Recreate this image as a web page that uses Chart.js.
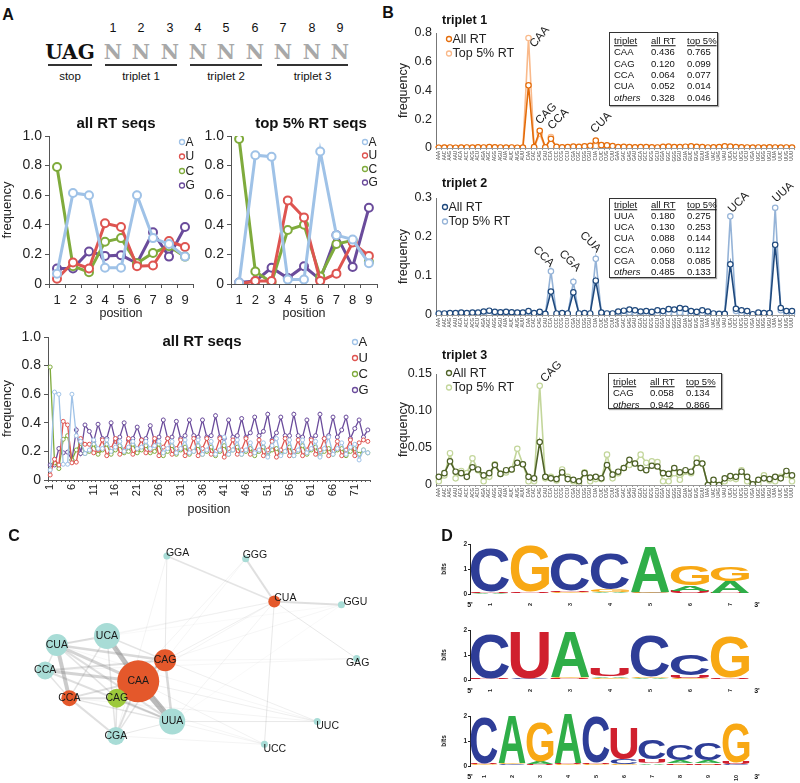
<!DOCTYPE html>
<html>
<head>
<meta charset="utf-8">
<title>RT triplet figure</title>
<script src="https://cdn.jsdelivr.net/npm/chart.js@4.4.1/dist/chart.umd.min.js"></script>
<style>
  body { margin: 0; background: #fff; }
  #page { position: relative; width: 800px; height: 783px; overflow: hidden; font-family: 'Liberation Sans', Arial, sans-serif; color: #111; }
  canvas { position: absolute; }
  .lbl { position: absolute; white-space: nowrap; transform: translate(-50%, -50%); line-height: 1; }
  .lft { position: absolute; white-space: nowrap; transform: translate(0, -50%); line-height: 1; }
  .panel { font-weight: bold; font-size: 16px; }
  .ttl { font-weight: bold; font-size: 15px; }
  .sub { font-weight: bold; font-size: 12.5px; }
  .num { font-size: 12.5px; }
  .slab { font-family: 'DejaVu Serif', serif; font-weight: bold; font-size: 20px; }
  .grey { color: #a8a8a8; }
  .bar { position: absolute; height: 2px; background: #333; }
  .tbl { position: absolute; border: 1.6px solid #333; box-shadow: 1px 1px 1px #aaa; background: #fff; font-size: 9.5px; }
  .tbl div { position: absolute; white-space: nowrap; transform: translateY(-50%); line-height: 1; }
  .prime { font-size: 7px; font-weight: bold; }
</style>
</head>
<body>
<div id="page">
  <canvas id="a1" width="200" height="219" style="left:0;top:105px"></canvas>
  <canvas id="a2" width="200" height="219" style="left:200px;top:105px"></canvas>
  <canvas id="a3" width="400" height="195" style="left:0;top:325px"></canvas>
  <canvas id="b1" width="404" height="152" style="left:396px;top:20px"></canvas>
  <canvas id="b2" width="404" height="161" style="left:396px;top:178px"></canvas>
  <canvas id="b3" width="404" height="148" style="left:396px;top:361px"></canvas>
  <canvas id="c" width="400" height="263" style="left:0;top:520px"></canvas>
  <canvas id="d1" width="320" height="75" style="left:440px;top:535px"></canvas>
  <canvas id="d2" width="320" height="75" style="left:440px;top:621px"></canvas>
  <canvas id="d3" width="320" height="75" style="left:440px;top:707px"></canvas>

  <div class="lbl panel" style="left:8px;top:15px">A</div>
  <div class="lbl panel" style="left:388px;top:13px">B</div>
  <div class="lbl panel" style="left:14px;top:536px">C</div>
  <div class="lbl panel" style="left:447px;top:536px">D</div>

  <div id="diagram"></div>

  <div class="lbl ttl" style="left:116px;top:122px">all RT seqs</div>
  <div class="lbl ttl" style="left:311px;top:122px">top 5% RT seqs</div>
  <div class="lbl ttl" style="left:202px;top:340px">all RT seqs</div>

  <div class="lft sub" style="left:442px;top:20px">triplet 1</div>
  <div class="lft sub" style="left:442px;top:183px">triplet 2</div>
  <div class="lft sub" style="left:442px;top:355px">triplet 3</div>

  <div id="tables"></div>

  <div class="lbl prime" style="left:470px;top:604px">5'</div>
  <div class="lbl prime" style="left:757px;top:604px">3'</div>
  <div class="lbl prime" style="left:470px;top:690px">5'</div>
  <div class="lbl prime" style="left:757px;top:690px">3'</div>
  <div class="lbl prime" style="left:470px;top:776px">5'</div>
  <div class="lbl prime" style="left:757px;top:776px">3'</div>
</div>

<script>
// ---- data: position frequencies (all RT seqs, 74 positions after the stop codon)
const positions = Array.from({length: 74}, (_, i) => String(i + 1));
const allA = [0.07,0.615,0.60,0.11,0.11,0.60,0.31,0.27,0.185,
  0.21,0.28,0.22, 0.22,0.28,0.20, 0.23,0.27,0.20, 0.23,0.27,0.22, 0.23,0.27,0.22, 0.24,0.27,0.19, 0.22,0.27,0.19,
  0.22,0.28,0.19, 0.20,0.28,0.18, 0.21,0.27,0.18, 0.21,0.30,0.18, 0.21,0.28,0.18, 0.21,0.26,0.19, 0.21,0.26,0.16,
  0.24,0.29,0.17, 0.20,0.28,0.17, 0.21,0.28,0.19, 0.22,0.27,0.16, 0.22,0.30,0.18, 0.22,0.26,0.18, 0.23,0.25,0.14, 0.21,0.19];
const allU = [0.035,0.145,0.105,0.41,0.385,0.12,0.125,0.29,0.25,
  0.25,0.19,0.21, 0.28,0.17,0.22, 0.29,0.18,0.21, 0.29,0.18,0.22, 0.28,0.19,0.21, 0.29,0.17,0.23, 0.29,0.18,0.22,
  0.28,0.17,0.21, 0.29,0.17,0.22, 0.29,0.18,0.20, 0.29,0.16,0.22, 0.28,0.18,0.21, 0.29,0.18,0.20, 0.28,0.17,0.21,
  0.27,0.16,0.21, 0.29,0.17,0.20, 0.28,0.17,0.21, 0.28,0.18,0.21, 0.29,0.17,0.20, 0.27,0.17,0.21, 0.28,0.17,0.26, 0.28,0.27];
const allC = [0.79,0.12,0.08,0.285,0.31,0.14,0.21,0.255,0.185,
  0.20,0.25,0.18, 0.21,0.25,0.18, 0.21,0.24,0.19, 0.20,0.25,0.19, 0.21,0.24,0.19, 0.20,0.25,0.17, 0.20,0.24,0.18,
  0.21,0.23,0.18, 0.20,0.24,0.18, 0.20,0.23,0.17, 0.20,0.24,0.18, 0.21,0.23,0.18, 0.20,0.22,0.17, 0.20,0.23,0.17,
  0.21,0.22,0.18, 0.20,0.23,0.17, 0.20,0.24,0.18, 0.21,0.23,0.17, 0.20,0.22,0.18, 0.21,0.22,0.17, 0.20,0.22,0.18, 0.21,0.19];
const allG = [0.105,0.105,0.22,0.19,0.195,0.14,0.35,0.185,0.385,
  0.34,0.27,0.39, 0.29,0.29,0.40, 0.27,0.30,0.40, 0.28,0.29,0.37, 0.28,0.29,0.38, 0.27,0.30,0.42, 0.29,0.30,0.41,
  0.29,0.31,0.42, 0.31,0.30,0.42, 0.30,0.31,0.45, 0.30,0.29,0.42, 0.30,0.31,0.43, 0.30,0.33,0.44, 0.31,0.34,0.46,
  0.28,0.33,0.44, 0.31,0.31,0.46, 0.31,0.30,0.42, 0.29,0.31,0.46, 0.29,0.31,0.44, 0.30,0.35,0.44, 0.29,0.36,0.42, 0.30,0.35];

// top 5% RT seqs, positions 1-9
const topA = [0.01,0.87,0.86,0.03,0.03,0.895,0.33,0.30,0.14];
const topU = [0.0,0.02,0.02,0.565,0.45,0.02,0.07,0.28,0.19];
const topC = [0.98,0.085,0.01,0.365,0.40,0.05,0.27,0.295,0.15];
const topG = [0.01,0.02,0.11,0.04,0.12,0.03,0.33,0.115,0.515];

// ---- triplet frequencies
const codons = ['AAA','AAC','AAG','AAU','ACA','ACC','ACG','ACU','AGA','AGC','AGG','AGU','AUA','AUC','AUG','AUU',
  'CAA','CAC','CAG','CAU','CCA','CCC','CCG','CCU','CGA','CGC','CGG','CGU','CUA','CUC','CUG','CUU',
  'GAA','GAC','GAG','GAU','GCA','GCC','GCG','GCU','GGA','GGC','GGG','GGU','GUA','GUC','GUG','GUU',
  'UAA','UAC','UAG','UAU','UCA','UCC','UCG','UCU','UGA','UGC','UGG','UGU','UUA','UUC','UUG','UUU'];
const t1All = [0.002,0.003,0.004,0.002,0.003,0.004,0.003,0.005,0.004,0.006,0.005,0.004,0.003,0.004,0.002,0.003,
  0.436,0.006,0.120,0.005,0.064,0.008,0.005,0.007,0.010,0.008,0.012,0.015,0.052,0.020,0.018,0.014,
  0.006,0.008,0.007,0.005,0.006,0.007,0.005,0.004,0.008,0.010,0.007,0.006,0.009,0.012,0.008,0.007,
  0.004,0.005,0.006,0.012,0.010,0.006,0.005,0.004,0.003,0.004,0.003,0.005,0.004,0.003,0.004,0.003];
const t1Top = [0.001,0.001,0.001,0.000,0.001,0.001,0.000,0.001,0.001,0.001,0.001,0.001,0.000,0.001,0.000,0.000,
  0.765,0.001,0.099,0.000,0.077,0.001,0.001,0.001,0.002,0.001,0.002,0.002,0.014,0.003,0.002,0.001,
  0.001,0.001,0.001,0.001,0.001,0.001,0.000,0.001,0.001,0.002,0.001,0.001,0.001,0.002,0.001,0.001,
  0.000,0.001,0.001,0.001,0.002,0.001,0.001,0.000,0.000,0.001,0.000,0.001,0.001,0.000,0.001,0.000];
const t2All = [0.004,0.004,0.005,0.005,0.006,0.005,0.006,0.006,0.009,0.011,0.008,0.007,0.008,0.007,0.006,0.006,
  0.010,0.005,0.008,0.003,0.060,0.004,0.005,0.004,0.058,0.004,0.005,0.004,0.088,0.006,0.004,0.004,
  0.009,0.011,0.014,0.012,0.009,0.010,0.008,0.012,0.010,0.015,0.014,0.018,0.016,0.010,0.008,0.012,
  0.009,0.004,0.003,0.003,0.130,0.016,0.012,0.010,0.002,0.006,0.005,0.005,0.180,0.018,0.010,0.010];
const t2Top = [0.001,0.001,0.001,0.002,0.001,0.001,0.002,0.001,0.002,0.003,0.002,0.001,0.002,0.001,0.001,0.001,
  0.008,0.001,0.003,0.001,0.112,0.001,0.001,0.001,0.085,0.001,0.002,0.001,0.144,0.003,0.001,0.001,
  0.003,0.004,0.006,0.005,0.003,0.004,0.002,0.004,0.003,0.005,0.004,0.006,0.005,0.003,0.002,0.004,
  0.002,0.001,0.000,0.001,0.253,0.010,0.004,0.003,0.000,0.002,0.001,0.002,0.275,0.012,0.004,0.003];
const t3All = [0.011,0.016,0.032,0.018,0.016,0.011,0.024,0.021,0.013,0.016,0.027,0.015,0.020,0.021,0.030,0.028,
  0.011,0.009,0.058,0.011,0.009,0.008,0.017,0.008,0.007,0.005,0.016,0.010,0.011,0.009,0.027,0.014,
  0.018,0.023,0.034,0.029,0.023,0.020,0.026,0.025,0.016,0.015,0.023,0.017,0.020,0.018,0.030,0.029,
  0.000,0.007,0.000,0.009,0.012,0.011,0.018,0.011,0.001,0.007,0.009,0.008,0.011,0.009,0.019,0.013];
const t3Top = [0.005,0.013,0.043,0.009,0.019,0.016,0.036,0.020,0.005,0.011,0.028,0.015,0.017,0.021,0.049,0.028,
  0.005,0.005,0.134,0.009,0.011,0.006,0.021,0.011,0.005,0.001,0.017,0.005,0.008,0.008,0.041,0.009,
  0.016,0.023,0.027,0.029,0.041,0.030,0.032,0.031,0.005,0.005,0.016,0.007,0.018,0.016,0.036,0.029,
  0.000,0.002,0.000,0.005,0.009,0.008,0.020,0.005,0.000,0.002,0.013,0.006,0.005,0.011,0.014,0.005];

const tab1 = [['CAA','0.436','0.765'],['CAG','0.120','0.099'],['CCA','0.064','0.077'],['CUA','0.052','0.014'],['others','0.328','0.046']];
const tab2 = [['UUA','0.180','0.275'],['UCA','0.130','0.253'],['CUA','0.088','0.144'],['CCA','0.060','0.112'],['CGA','0.058','0.085'],['others','0.485','0.133']];
const tab3 = [['CAG','0.058','0.134'],['others','0.942','0.866']];

// ---- network (layout coordinates 0-100, node size, group)
const nodeNames = ['GGA','GGG','CUA','GGU','GAG','UCA','CUA','CAG','CCA','CAA','CCA','CAG','UUA','CGA','UUC','UCC'];
const nodeGroup = ['t2','t2','t1','t2','t2','t2','t2','t1','t2','t1','t1','t3','t2','t2','t2','t2'];
const nodeX = [40.75,62.75,70.75,89.5,93.75,24.0,10.0,40.25,6.75,32.75,13.5,26.75,42.25,26.5,82.75,68.0];
const nodeY = [6.8,8.0,27.4,28.9,53.2,43.0,47.1,54.0,58.6,63.5,71.1,71.1,81.7,88.2,81.7,92.0];
const nodeSize = [3.5,3.5,6,3.5,3.5,13,11,11,9,21,8,9.5,13,9,3.5,3.5];
const edges = [
  [9,12,6],[9,5,5],[6,10,4],[9,6,3],[9,8,3],[9,7,2.5],[9,10,2],[9,11,2],[9,13,2],
  [6,7,2.5],[6,5,2],[6,12,2],[6,11,1.5],[8,7,2],[8,12,2],[8,10,1.5],[8,6,1.5],
  [5,7,1.5],[5,10,1.5],[5,13,1.5],[5,12,1],[7,12,2.5],[7,11,1.5],[7,13,1.5],
  [10,11,2],[10,13,2],[10,12,1.5],[11,12,2],[11,13,1.5],[13,12,1],
  [2,0,1.5],[2,1,2],[2,3,2],[2,4,1],[2,15,1],[2,7,0.8],[2,9,0.6],[2,5,0.5],[2,12,0.6],[2,6,0.5],
  [0,7,1],[0,13,0.6],[1,11,0.6],[1,7,0.5],[4,7,0.5],[4,8,0.5],[3,7,0.5],[3,5,0.4],[3,12,0.4],
  [14,12,1],[14,9,0.8],[14,7,0.8],[14,10,0.6],[14,6,0.5],[15,9,0.7],[15,13,0.6],[15,12,0.6],[15,11,0.5]
];

// ---- sequence logos (bits per base and position)
const logo1 = { A: [0.03,0.02,0.03,0.05,1.80,0.22,0.45], C: [1.75,0.02,1.45,1.40,0.03,0.03,0.02],
                G: [0.02,1.85,0.03,0.10,0.05,0.78,0.55], U: [0.04,0.05,0.06,0.03,0.02,0.08,0.03] };
const logo2 = { A: [0.02,0.02,1.80,0.06,0.04,0.03,0.02], C: [1.80,0.03,0.03,0.03,1.65,0.85,0.02],
                G: [0.02,0.02,0.05,0.05,0.05,0.04,1.62], U: [0.03,1.85,0.03,0.30,0.03,0.12,0.05] };
const logo3 = { A: [0.03,1.90,0.10,1.95,0.03,0.04,0.06,0.12,0.12,0.03], C: [1.85,0.04,0.03,0.03,1.85,0.18,0.80,0.62,0.66,0.03],
                G: [0.03,0.05,1.60,0.04,0.03,0.04,0.04,0.05,0.05,1.55], U: [0.04,0.03,0.04,0.04,0.06,1.25,0.15,0.06,0.06,0.08] };

// ---- styles
const FONT = "'Liberation Sans', Arial, sans-serif";
Chart.defaults.font.family = FONT;
Chart.defaults.color = '#222';
Chart.defaults.animation = false;
Chart.defaults.responsive = false;
Chart.defaults.plugins.legend.display = false;
Chart.defaults.plugins.tooltip.enabled = false;

const nucColors = { A: '#9fc2e7', U: '#de5450', C: '#7fab3c', G: '#6a4b9b' };
const tripColors = [['#e46c0a', '#f9b98a'], ['#1f497d', '#95b3d7'], ['#4f6228', '#c3d69b']];
const nodeColor = { t1: '#e4582b', t2: '#a8dcd6', t3: '#9cc93b' };
const letterColors = { A: '#2fae48', C: '#2e3d97', G: '#f8a814', U: '#d0202e' };

// legend drawn inside the plot area
const cornerLegend = {
  id: 'cornerLegend',
  afterDraw(chart, args, o) {
    if (o.dx === undefined) return;
    const ctx = chart.ctx, a = chart.chartArea;
    ctx.save();
    ctx.font = o.size + 'px ' + FONT;
    ctx.textBaseline = 'middle';
    chart.data.datasets.forEach((d, k) => {
      const x = o.fromRight ? a.right - o.dx : a.left + o.dx;
      const y = a.top + o.dy + k * o.step;
      ctx.beginPath();
      ctx.arc(x, y, o.r, 0, Math.PI * 2);
      ctx.fillStyle = '#fff'; ctx.fill();
      ctx.strokeStyle = d.borderColor; ctx.lineWidth = o.lw; ctx.stroke();
      ctx.fillStyle = '#222';
      ctx.fillText(d.label, x + o.r + 1, y + 0.5);
    });
    ctx.restore();
  }
};

// rotated codon names next to the peaks
const peakLabels = {
  id: 'peakLabels',
  afterDatasetsDraw(chart, args, o) {
    if (!o.items) return;
    const ctx = chart.ctx, xs = chart.scales.x, ys = chart.scales.y;
    ctx.save();
    ctx.font = '11.5px ' + FONT;
    ctx.fillStyle = '#222';
    o.items.forEach(it => {
      const i = chart.data.labels.indexOf(it.text);
      const v = Math.max(...chart.data.datasets.map(d => d.data[i]));
      ctx.save();
      ctx.translate(xs.getPixelForValue(i) + it.dx, ys.getPixelForValue(v) + it.dy);
      ctx.rotate(it.angle * Math.PI / 180);
      ctx.textAlign = it.angle < 0 ? 'left' : 'right';
      ctx.fillText(it.text, 0, 0);
      ctx.restore();
    });
    ctx.restore();
  }
};

const nodeLabels = {
  id: 'nodeLabels',
  afterDatasetsDraw(chart, args, o) {
    const ctx = chart.ctx, xs = chart.scales.x, ys = chart.scales.y;
    ctx.save();
    ctx.font = '10.5px ' + FONT;
    ctx.fillStyle = '#1a1a1a';
    ctx.textBaseline = 'middle';
    nodeNames.forEach((name, i) => {
      const off = o.offsets[i] || [0, 0, 'center'];
      ctx.textAlign = off[2];
      ctx.fillText(name, xs.getPixelForValue(nodeX[i]) + off[0], ys.getPixelForValue(nodeY[i]) + off[1]);
    });
    ctx.restore();
  }
};

function drawGlyph(ctx, ch, x, y, w, h, color) {
  ctx.save();
  ctx.font = 'bold 100px ' + FONT;
  const m = ctx.measureText(ch);
  const gw = m.actualBoundingBoxLeft + m.actualBoundingBoxRight;
  const gh = m.actualBoundingBoxAscent + m.actualBoundingBoxDescent;
  ctx.translate(x, y);
  ctx.scale(w / gw, h / gh);
  ctx.fillStyle = color;
  ctx.textBaseline = 'alphabetic';
  ctx.textAlign = 'left';
  ctx.fillText(ch, m.actualBoundingBoxLeft, m.actualBoundingBoxAscent);
  ctx.restore();
}

const logoLetters = {
  id: 'logoLetters',
  afterDatasetsDraw(chart) {
    const ctx = chart.ctx;
    chart.data.datasets.forEach((ds, di) => {
      chart.getDatasetMeta(di).data.forEach((bar, i) => {
        const p = bar.getProps(['x', 'y', 'base', 'width'], true);
        const ht = Math.abs(p.base - p.y);
        if (ht < 0.4) return;
        drawGlyph(ctx, ds.letters[i], p.x - p.width / 2, Math.min(p.y, p.base), p.width, ht, letterColors[ds.letters[i]]);
      });
    });
  }
};

// ---- panel A top diagram
(function () {
  const root = document.getElementById('diagram');
  const xs = [113, 141, 170, 198, 226, 255, 283, 312, 340];
  let html = '';
  xs.forEach((x, i) => {
    html += `<div class="lbl num" style="left:${x}px;top:28px">${i + 1}</div>`;
    html += `<div class="lbl slab grey" style="left:${x}px;top:52px">N</div>`;
  });
  html += '<div class="lbl slab" style="left:70px;top:52px">UAG</div>';
  [[48, 44, 'stop'], [105, 72, 'triplet 1'], [190, 72, 'triplet 2'], [277, 71, 'triplet 3']].forEach(([l, w, t]) => {
    html += `<div class="bar" style="left:${l}px;top:64px;width:${w}px"></div>`;
    html += `<div class="lbl" style="left:${l + w / 2}px;top:77px;font-size:11.5px">${t}</div>`;
  });
  root.innerHTML = html;
})();

// ---- tables in panel B
function makeTable(left, top, w, h, first, rows) {
  let html = `<div class="tbl" style="left:${left}px;top:${top}px;width:${w}px;height:${h}px">`;
  const all = [['triplet', 'all RT', 'top 5%']].concat(rows);
  all.forEach((r, k) => {
    const y = first + k * 11.3;
    const st = k === 0 ? 'text-decoration:underline;' : '';
    html += `<div style="left:4px;top:${y}px;${st}${r[0] === 'others' ? 'font-style:italic;' : ''}">${r[0]}</div>`;
    html += `<div style="left:41px;top:${y}px;${st}">${r[1]}</div>`;
    html += `<div style="left:77px;top:${y}px;${st}">${r[2]}</div>`;
  });
  return html + '</div>';
}
document.getElementById('tables').innerHTML =
  makeTable(609, 32, 107, 72, 8, tab1) +
  makeTable(609, 198, 105, 78, 5.5, tab2) +
  makeTable(608, 373, 112, 34, 8, tab3);

// ---- panel A charts
function nucChart(id, labels, series, o) {
  return new Chart(document.getElementById(id), {
    type: 'line',
    data: {
      labels,
      datasets: series.map(s => ({
        label: s[0], data: s[1], borderColor: nucColors[s[0]], backgroundColor: '#fff',
        borderWidth: o.lw, pointRadius: o.pr, pointBorderWidth: o.pbw,
        pointBackgroundColor: '#fff', pointBorderColor: nucColors[s[0]], tension: 0
      }))
    },
    options: {
      layout: { padding: o.pad },
      scales: {
        x: {
          type: 'category', offset: true,
          grid: { offset: true, drawOnChartArea: false, tickLength: o.xtl, color: '#555' },
          border: { color: '#555' },
          ticks: Object.assign({ font: { size: o.xfs }, color: '#222', padding: o.xpad, autoSkip: false }, o.xticks || {}),
          title: { display: true, text: 'position', font: { size: 12.5 }, padding: { top: 0, bottom: o.titleBottom }, color: '#222' },
          afterFit: s => { s.height = o.xh; }
        },
        y: {
          min: 0, max: 1,
          ticks: { stepSize: 0.2, font: { size: 14 }, color: '#222', padding: 3 },
          grid: { drawOnChartArea: false, tickLength: 4, color: '#555' },
          border: { color: '#555' },
          title: { display: o.ytitle, text: 'frequency', font: { size: 13 }, padding: 0, color: '#222' },
          afterFit: s => { s.width = o.yw; }
        }
      },
      plugins: { cornerLegend: o.legend }
    },
    plugins: [cornerLegend]
  });
}

const nine = positions.slice(0, 9);
nucChart('a1', nine, [['A', allA.slice(0, 9)], ['U', allU.slice(0, 9)], ['C', allC.slice(0, 9)], ['G', allG.slice(0, 9)]],
  { lw: 3, pr: 4, pbw: 2, pad: { left: 0, top: 31, right: 7, bottom: 0 }, xh: 40, yw: 49, xtl: 4, xfs: 13, xpad: 5, ytitle: true, titleBottom: 3,
    legend: { fromRight: true, dx: 11, dy: 6, step: 14.5, r: 2.5, lw: 1.3, size: 12 } });
nucChart('a2', nine, [['A', topA], ['U', topU], ['C', topC], ['G', topG]],
  { lw: 3, pr: 4, pbw: 2, pad: { left: 0, top: 31, right: 23, bottom: 0 }, xh: 40, yw: 31, xtl: 4, xfs: 13, xpad: 5, ytitle: false, titleBottom: 3,
    legend: { fromRight: true, dx: 12, dy: 6, step: 13.5, r: 2.5, lw: 1.3, size: 12 } });
nucChart('a3', positions, [['A', allA], ['U', allU], ['C', allC], ['G', allG]],
  { lw: 1.3, pr: 2, pbw: 1, pad: { left: 0, top: 12, right: 30, bottom: 0 }, xh: 40, yw: 48, xtl: 2, xfs: 11, xpad: 2, ytitle: true, titleBottom: 3,
    xticks: { minRotation: 90, maxRotation: 90, callback: (v, i) => (i % 5 === 0 ? positions[i] : '') },
    legend: { fromRight: true, dx: 15, dy: 5, step: 16, r: 2.5, lw: 1.3, size: 13 } });

// ---- panel B charts
function tripChart(id, allVals, topVals, colors, o) {
  return new Chart(document.getElementById(id), {
    type: 'line',
    data: {
      labels: codons,
      datasets: [
        { label: 'All RT', data: allVals, borderColor: colors[0], borderWidth: 1.6, pointRadius: 2.7, pointBorderWidth: 1.2,
          pointBackgroundColor: '#fff', pointBorderColor: colors[0], tension: 0 },
        { label: 'Top 5% RT', data: topVals, borderColor: colors[1], borderWidth: 1.6, pointRadius: 2.7, pointBorderWidth: 1.2,
          pointBackgroundColor: '#fff', pointBorderColor: colors[1], tension: 0 }
      ]
    },
    options: {
      layout: { padding: { left: 0, top: o.top, right: 4, bottom: 0 } },
      scales: {
        x: {
          type: 'category', offset: true,
          grid: { offset: true, drawOnChartArea: false, tickLength: 2, color: '#999' },
          border: { color: '#999' },
          ticks: { font: { size: 4.5 }, color: '#444', minRotation: 90, maxRotation: 90, autoSkip: false, padding: 1 },
          afterFit: s => { s.height = 24; }
        },
        y: {
          min: 0, max: o.max,
          ticks: { stepSize: o.step, font: { size: 12.5 }, color: '#222', padding: 4 },
          grid: { drawOnChartArea: false, drawTicks: false, color: '#777' },
          border: { color: '#777' },
          title: { display: true, text: 'frequency', font: { size: 12.5 }, padding: 0, color: '#222' },
          afterFit: s => { s.width = 40; }
        }
      },
      plugins: {
        cornerLegend: { fromRight: false, dx: o.ldx, dy: o.ldy, step: 14.5, r: 2.5, lw: 1.3, size: 12.5 },
        peakLabels: { items: o.peaks }
      }
    },
    plugins: [cornerLegend, peakLabels]
  });
}

tripChart('b1', t1All, t1Top, tripColors[0], { max: 0.8, step: 0.2, top: 13, ldx: 13, ldy: 6,
  peaks: [{ text: 'CAA', dx: 6, dy: 10, angle: -50 }, { text: 'CAG', dx: 0, dy: -6, angle: -45 },
          { text: 'CCA', dx: 1, dy: -7, angle: -45 }, { text: 'CUA', dx: -1, dy: -7, angle: -45 }] });
tripChart('b2', t2All, t2Top, tripColors[1], { max: 0.3, step: 0.1, top: 20, ldx: 9, ldy: 9,
  peaks: [{ text: 'CCA', dx: -1, dy: -4, angle: 45 }, { text: 'CGA', dx: 3, dy: -10, angle: 45 },
          { text: 'CUA', dx: 1, dy: -6, angle: 45 }, { text: 'UCA', dx: 2, dy: -3, angle: -45 },
          { text: 'UUA', dx: 1, dy: -5, angle: -42 }] });
tripChart('b3', t3All, t3Top, tripColors[2], { max: 0.15, step: 0.05, top: 13, ldx: 13, ldy: -1,
  peaks: [{ text: 'CAG', dx: 5, dy: -3, angle: -45 }] });

// ---- panel C network
new Chart(document.getElementById('c'), {
  type: 'bubble',
  data: {
    datasets: [
      { type: 'bubble', data: nodeX.map((x, i) => ({ x, y: nodeY[i], r: nodeSize[i] })),
        backgroundColor: nodeGroup.map(g => nodeColor[g]), borderWidth: 0, order: 1, clip: false }
    ].concat(edges.map(([a, b, w]) => ({
      type: 'line', data: [{ x: nodeX[a], y: nodeY[a] }, { x: nodeX[b], y: nodeY[b] }],
      borderColor: `rgba(130,130,130,${Math.min(0.55, 0.1 + 0.08 * w)})`, borderWidth: w,
      pointRadius: 0, order: 2, clip: false
    })))
  },
  options: {
    layout: { padding: 0 },
    scales: {
      x: { type: 'linear', min: 0, max: 100, display: false },
      y: { type: 'linear', min: 0, max: 100, reverse: true, display: false }
    },
    plugins: {
      nodeLabels: { offsets: [[-1, -3, 'left'], [-3, -4, 'left'], [0, -3, 'left'], [2, -3, 'left'], [1, 5, 'center'],
        null, null, null, null, null, null, null, null, null, [-1, 5, 'left'], [-1, 5, 'left']] }
    }
  },
  plugins: [nodeLabels]
});

// ---- panel D logos
function logoChart(id, logo) {
  const n = logo.A.length;
  const layers = [0, 1, 2, 3].map(() => ({ data: [], letters: [] }));
  for (let i = 0; i < n; i++) {
    ['A', 'C', 'G', 'U'].map(b => [b, logo[b][i]]).sort((p, q) => p[1] - q[1])
      .forEach(([b, h], k) => { layers[k].data.push(h); layers[k].letters.push(b); });
  }
  return new Chart(document.getElementById(id), {
    type: 'bar',
    data: {
      labels: positions.slice(0, n),
      datasets: layers.map(l => ({ data: l.data, letters: l.letters, backgroundColor: 'rgba(0,0,0,0)',
        borderWidth: 0, barPercentage: 1, categoryPercentage: 0.96 }))
    },
    options: {
      layout: { padding: { left: 0, top: 9, right: 10, bottom: 0 } },
      scales: {
        x: { stacked: true, grid: { display: false }, border: { display: false },
             ticks: { font: { size: 5.5, weight: 'bold' }, minRotation: 90, maxRotation: 90, padding: 1, color: '#222' },
             afterFit: s => { s.height = 16; } },
        y: { stacked: true, min: 0, max: 2,
             ticks: { stepSize: 1, font: { size: 6.5, weight: 'bold' }, padding: 1, color: '#222' },
             grid: { drawOnChartArea: false, tickLength: 2, color: '#222' }, border: { color: '#222' },
             title: { display: true, text: 'bits', font: { size: 6.5, weight: 'bold' }, padding: 0, color: '#222' },
             afterFit: s => { s.width = 30; } }
      }
    },
    plugins: [logoLetters]
  });
}
logoChart('d1', logo1);
logoChart('d2', logo2);
logoChart('d3', logo3);
</script>
</body>
</html>
